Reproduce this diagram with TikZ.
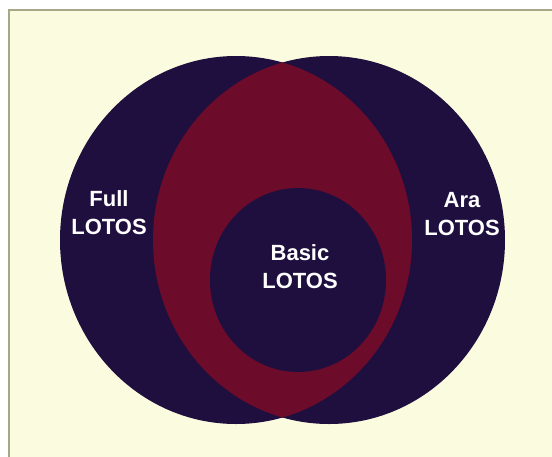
\documentclass[tikz,border=0pt]{standalone}
\usepackage{fontspec}
\setmainfont{Liberation Sans}
\definecolor{navy}{HTML}{1F0F3F}
\definecolor{wine}{HTML}{6C0B2A}
\definecolor{paper}{HTML}{FBFCDF}
\definecolor{rim}{HTML}{A6A888}
\tikzset{
  lbl/.style={text=white, font=\fontsize{22}{28}\selectfont\bfseries, align=center, inner sep=0pt, anchor=base}
}
\begin{document}
\begin{tikzpicture}[x=1pt,y=-1pt]
\useasboundingbox (0,0) rectangle (552,456);
\fill[white] (0,0) rectangle (552,456);
\draw[rim, fill=paper, line width=1.2pt] (9,10) rectangle (560,470);
% outer sets
\fill[navy] (236,240) ellipse [x radius=176, y radius=184];
\fill[navy] (329,240) ellipse [x radius=176, y radius=184];
\begin{scope}
  \clip (236,240) ellipse [x radius=176, y radius=184];
  \fill[wine] (329,240) ellipse [x radius=176, y radius=184];
\end{scope}
% inner set
\fill[navy] (298,280) ellipse [x radius=88, y radius=92];
% labels
\node[lbl] (full) at (109,234) {Full\\LOTOS};
\node[lbl] (ara) at (462,235) {Ara\\LOTOS};
\node[lbl] (basic) at (300,288) {Basic\\LOTOS};
\end{tikzpicture}
\end{document}
